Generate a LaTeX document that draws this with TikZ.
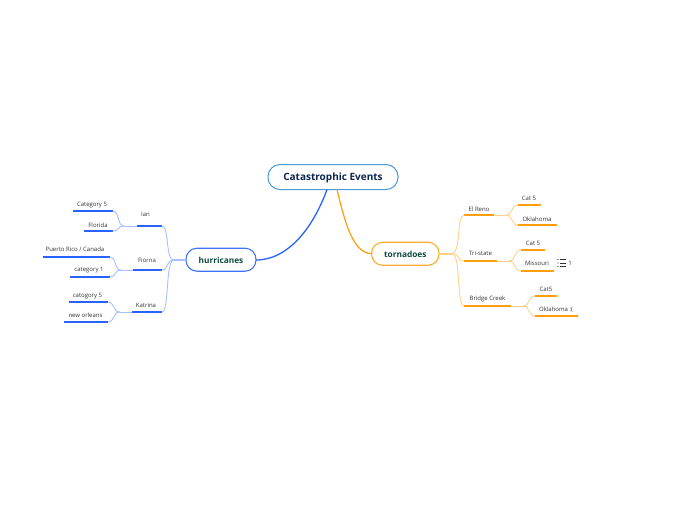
\documentclass[tikz,border=0pt]{standalone}
\usepackage{fontspec}
\setmainfont{Open Sans}
\definecolor{hurrline}{HTML}{2962FF}
\definecolor{hurrbox}{HTML}{3F73FF}
\definecolor{hurrlight}{HTML}{A6C0FF}
\definecolor{tornline}{HTML}{FF9D0A}
\definecolor{tornbox}{HTML}{FFAB2E}
\definecolor{tornlight}{HTML}{FFD08A}
\definecolor{rootline}{HTML}{4A9AD8}
\definecolor{roottext}{HTML}{0B2550}
\definecolor{subtext}{HTML}{0D4A3C}
\definecolor{leaftext}{HTML}{333333}
\tikzset{
  rootbox/.style={draw=rootline, line width=1pt, rounded corners=12pt, minimum width=130pt, minimum height=25pt, text=roottext, font=\bfseries\fontsize{10}{12}\selectfont},
  subbox/.style={line width=1.1pt, rounded corners=11pt, minimum height=23pt, text=subtext, font=\bfseries\fontsize{8.3}{10}\selectfont},
  leaf/.style={text=leaftext, inner sep=0pt, yshift=-0.8pt, font=\fontsize{6}{7}\selectfont},
  hurrrule/.style={draw=hurrline, line width=1.5pt},
  hurrthin/.style={draw=hurrlight, line width=0.9pt},
  tornrule/.style={draw=tornline, line width=1.5pt},
  tornthin/.style={draw=tornlight, line width=0.9pt}
}
\begin{document}
\begin{tikzpicture}[x=1pt, y=-1pt]
  \useasboundingbox (0,0) rectangle (696,520);
  \coordinate (rootl) at (327,189.5);
  \coordinate (rootr) at (337,189.5);
  \coordinate (hurrw) at (186,260);
  \coordinate (hurre) at (256,260);
  \coordinate (hubh) at (174,260);
  \coordinate (hubt) at (452,253.7);
  \coordinate (tornw) at (371.8,253.7);
  \coordinate (torne) at (439,253.7);
  \node[rootbox] (root) at (333,177) {\raisebox{-3.7pt}[0pt][0pt]{Catastrophic Events}};
  \node[subbox, draw=hurrbox, minimum width=70pt] (hurricanes) at (221,259.7) {\raisebox{-3.3pt}[0pt][0pt]{hurricanes}};
  \node[subbox, draw=tornbox, minimum width=67.5pt] (tornadoes) at (405.3,253.7) {\raisebox{-3.6pt}[0pt][0pt]{tornadoes}};
  % main branches
  \draw[hurrline, line width=1.3pt] (rootl) .. controls (313,228) and (288,260) .. (hurre);
  \draw[tornline, line width=1.2pt] (rootr) .. controls (344,218) and (352,253.7) .. (tornw);
  \draw[hurrlight, line width=1.8pt] (hurrw) -- (hubh);
  \draw[tornlight, line width=1.8pt] (torne) -- (hubt);
  % hurricanes: name/text x/text y/line from/line to/line y/label
  \foreach \n/\tx/\ty/\a/\b/\ly/\t in {
    ian/145.5/214/136.7/161.7/226/Ian,
    fiorna/147/259.5/133/161.7/270/Fiorna,
    katrina/146/304.5/131.7/161.7/312/Katrina,
    ianone/92/204/72.7/112.7/211/Category 5,
    iantwo/98/224/84/112.7/231/Florida,
    fione/75/248.5/43/109.7/257/{Puerto Rico / Canada},
    fitwo/89/269/70/109.7/277/category 1,
    katone/87.5/295/68.5/107.7/302/catogory 5,
    kattwo/85.5/314.5/64/107.7/322/new orleans}{
    \node[leaf] (\n) at (\tx,\ty) {\t};
    \coordinate (\n l) at (\a,\ly);
    \coordinate (\n r) at (\b,\ly);
    \draw[hurrrule] (\n l) -- (\n r);
  }
  % tornadoes
  \foreach \n/\tx/\ty/\a/\b/\ly/\t in {
    elreno/479/208/464.3/494.3/215/El Reno,
    tristate/480.5/253/464.3/496.7/261/Tri-state,
    bridge/487.5/298.5/464.3/510.7/306/Bridge Creek,
    elone/529/198/518/541/205/Cat 5,
    eltwo/537/218/518/556.7/225/Oklahoma,
    trione/533/242.5/521/545/250/Cat 5,
    tritwo/537/263/521/554.3/271/Missouri,
    brone/546/289/535/557/296/Cat5,
    brtwo/556/309/535/577.7/316/Oklahoma :(}{
    \node[leaf] (\n) at (\tx,\ty) {\t};
    \coordinate (\n l) at (\a,\ly);
    \coordinate (\n r) at (\b,\ly);
    \draw[tornrule] (\n l) -- (\n r);
  }
  % hub curves
  \foreach \n in {ian,fiorna,katrina}
    \draw[hurrthin] (hubh) .. controls (165,260) and ([xshift=8pt]\n r) .. (\n r);
  \foreach \n in {elreno,tristate,bridge}
    \draw[tornthin] (hubt) .. controls (461,253.7) and ([xshift=-8pt]\n l) .. (\n l);
  % twigs
  \coordinate (ianj) at (124,226);
  \coordinate (fioj) at (121,270);
  \coordinate (katj) at (120,312);
  \coordinate (elj) at (506,215);
  \coordinate (trij) at (509,261);
  \coordinate (brj) at (523,306);
  \draw[hurrthin] (ianl) -- (ianj);
  \draw[hurrthin] (fiornal) -- (fioj);
  \draw[hurrthin] (katrinal) -- (katj);
  \draw[tornthin] (elrenor) -- (elj);
  \draw[tornthin] (tristater) -- (trij);
  \draw[tornthin] (bridger) -- (brj);
  \foreach \j/\n in {ianj/ianone,ianj/iantwo,fioj/fione,fioj/fitwo,katj/katone,katj/kattwo}
    \draw[hurrthin] (\j) .. controls ([xshift=-7pt]\j) and ([xshift=7pt]\n r) .. (\n r);
  \foreach \j/\n in {elj/elone,elj/eltwo,trij/trione,trij/tritwo,brj/brone,brj/brtwo}
    \draw[tornthin] (\j) .. controls ([xshift=7pt]\j) and ([xshift=-7pt]\n l) .. (\n l);
  % list icon
  \foreach \y in {259.5,263,266.5} {
    \fill[black!80] (558,\y) circle (0.7);
    \draw[black!80, line width=0.7pt] (560,\y) -- (566,\y);
  }
  \node[leaf, text=black!80] (tasks) at (570,263) {1};
\end{tikzpicture}
\end{document}
